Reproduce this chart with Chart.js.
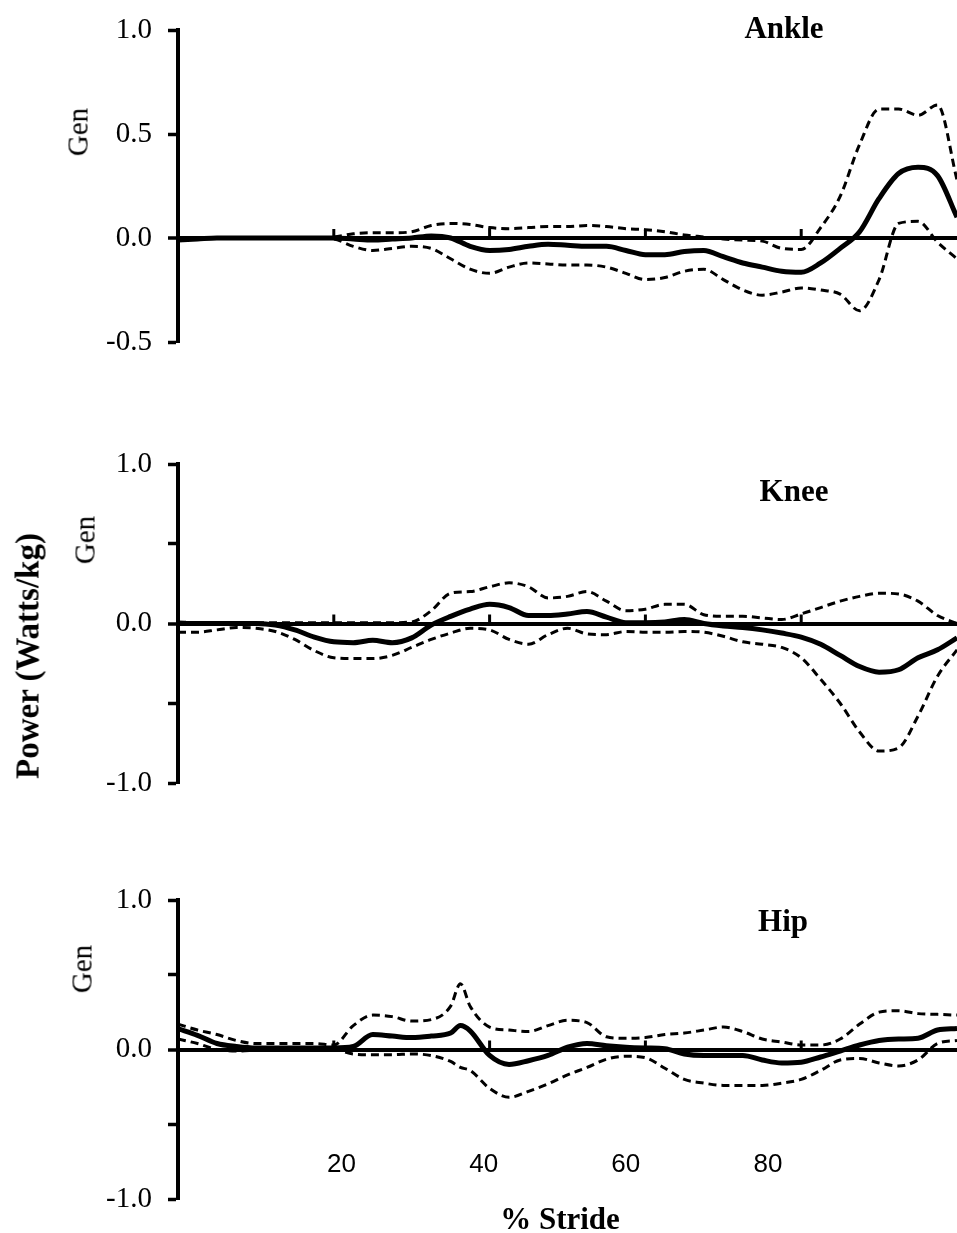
<!DOCTYPE html>
<html>
<head>
<meta charset="utf-8">
<script src="https://cdn.jsdelivr.net/npm/chart.js@4.4.1/dist/chart.umd.min.js"></script>
<style>
  body { margin: 0; background: #fff; width: 957px; height: 1233px; position: relative; overflow: hidden; font-family: 'Liberation Serif', serif; color: #000; }
  canvas { position: absolute; left: 0; }
  .lbl { position: absolute; white-space: nowrap; transform: translate(-50%, -50%); line-height: 1; }
  .rot { transform: translate(-50%, -50%) rotate(-90deg); }
  .title { font-weight: bold; font-size: 31px; }
  .gen { font-size: 29px; }
</style>
</head>
<body>
<canvas id="ankleChart" width="957" height="392" style="top:-10px"></canvas>
<canvas id="kneeChart" width="957" height="399" style="top:424px"></canvas>
<canvas id="hipChart" width="957" height="379" style="top:860px"></canvas>

<div class="lbl title" style="left:784px;top:27px">Ankle</div>
<div class="lbl title" style="left:794px;top:490px">Knee</div>
<div class="lbl title" style="left:783px;top:920px">Hip</div>
<div class="lbl rot gen" style="left:78px;top:132px">Gen</div>
<div class="lbl rot gen" style="left:85px;top:540px">Gen</div>
<div class="lbl rot gen" style="left:82px;top:969px">Gen</div>
<div class="lbl rot" style="left:28px;top:656px;font-weight:bold;font-size:33px">Power (Watts/kg)</div>
<div class="lbl" style="left:560px;top:1218px;font-weight:bold;font-size:31px">% Stride</div>

<script>
// % stride sample points (ankle + knee)
const strideX = [0,2.5,5,7.5,10,12.5,15,17.5,20,22.5,25,27.5,30,32.5,35,37.5,40,42.5,45,47.5,50,52.5,55,57.5,60,62.5,65,67.5,70,72.5,75,77.5,80,82.5,85,87.5,90,92.5,95,97.5,100];
// hip has one extra point at the sharp peak
const hipX = [0,2.5,5,7.5,10,12.5,15,17.5,20,22.5,25,27.5,30,32.5,35,36.25,37.5,40,42.5,45,47.5,50,52.5,55,57.5,60,62.5,65,67.5,70,72.5,75,77.5,80,82.5,85,87.5,90,92.5,95,97.5,100];

// Ankle power (W/kg): mean and +/- 1 SD
const ankleMean  = [-0.01,-0.005,0,0,0,0,0,0,0,-0.005,-0.01,-0.005,0,0.01,0,-0.04,-0.06,-0.055,-0.04,-0.03,-0.035,-0.04,-0.04,-0.06,-0.08,-0.08,-0.065,-0.06,-0.09,-0.12,-0.14,-0.16,-0.165,-0.12,-0.05,0.03,0.19,0.31,0.34,0.3,0.1];
const ankleUpper = [0,0,0,0,0,0,0,0,0.005,0.02,0.025,0.025,0.03,0.06,0.07,0.065,0.05,0.045,0.05,0.055,0.055,0.06,0.055,0.045,0.04,0.03,0.015,0.005,-0.005,-0.01,-0.015,-0.05,-0.055,0.05,0.2,0.45,0.62,0.62,0.59,0.64,0.28];
const ankleLower = [0,0,0,0,0,0,0,0,-0.005,-0.04,-0.06,-0.05,-0.04,-0.05,-0.1,-0.15,-0.17,-0.14,-0.12,-0.125,-0.13,-0.13,-0.14,-0.17,-0.2,-0.19,-0.16,-0.15,-0.2,-0.25,-0.275,-0.26,-0.24,-0.25,-0.27,-0.35,-0.2,0.07,0.08,-0.02,-0.1];

// Knee power
const kneeMean  = [0,0,0,0,0,-0.01,-0.04,-0.085,-0.115,-0.12,-0.105,-0.12,-0.09,-0.01,0.045,0.09,0.12,0.1,0.05,0.05,0.06,0.075,0.04,0.005,0.005,0.01,0.025,0,-0.015,-0.025,-0.04,-0.06,-0.085,-0.13,-0.2,-0.27,-0.305,-0.29,-0.215,-0.165,-0.09];
const kneeUpper = [0.01,0.005,0.005,0.005,0.005,0.005,0.005,0.005,0.005,0.005,0.005,0.005,0.01,0.08,0.19,0.2,0.23,0.255,0.23,0.16,0.17,0.2,0.14,0.08,0.09,0.12,0.12,0.055,0.045,0.045,0.035,0.025,0.06,0.1,0.14,0.17,0.19,0.185,0.14,0.05,0];
const kneeLower = [-0.055,-0.055,-0.04,-0.025,-0.03,-0.05,-0.1,-0.17,-0.215,-0.22,-0.22,-0.2,-0.15,-0.1,-0.06,-0.03,-0.04,-0.1,-0.13,-0.07,-0.03,-0.065,-0.07,-0.05,-0.055,-0.055,-0.05,-0.055,-0.08,-0.115,-0.13,-0.15,-0.215,-0.35,-0.5,-0.68,-0.8,-0.78,-0.58,-0.33,-0.165];

// Hip power
const hipMean  = [0.14,0.095,0.04,0.02,0.01,0.01,0.01,0.01,0.01,0.02,0.1,0.09,0.08,0.09,0.11,0.16,0.125,-0.04,-0.1,-0.075,-0.04,0.015,0.04,0.025,0.015,0.01,0.005,-0.03,-0.04,-0.04,-0.04,-0.07,-0.09,-0.085,-0.05,-0.01,0.03,0.06,0.07,0.075,0.13,0.14];
const hipUpper = [0.17,0.13,0.1,0.06,0.04,0.04,0.04,0.04,0.03,0.16,0.23,0.22,0.19,0.2,0.29,0.44,0.29,0.15,0.13,0.12,0.16,0.195,0.18,0.085,0.075,0.08,0.1,0.11,0.13,0.15,0.12,0.07,0.05,0.03,0.03,0.07,0.17,0.25,0.26,0.24,0.235,0.23];
const hipLower = [0.07,0.04,0,-0.01,-0.005,0,0,0,0,-0.03,-0.035,-0.035,-0.03,-0.04,-0.08,-0.12,-0.14,-0.26,-0.32,-0.28,-0.23,-0.17,-0.12,-0.065,-0.045,-0.055,-0.125,-0.2,-0.225,-0.24,-0.24,-0.24,-0.225,-0.2,-0.14,-0.07,-0.06,-0.09,-0.11,-0.07,0.04,0.06];

const strideTicks = [20, 40, 60, 80];
const strideLabels = [20, 40, 60, 80];

// small upward tick marks on the zero line
const zeroTicks = {
  id: 'zeroTicks',
  beforeDatasetsDraw(chart) {
    const { ctx, scales: { x, y } } = chart;
    const y0 = y.getPixelForValue(0);
    ctx.save();
    ctx.strokeStyle = '#000';
    ctx.lineWidth = 3;
    strideTicks.forEach(v => {
      const px = x.getPixelForValue(v);
      ctx.beginPath();
      ctx.moveTo(px, y0);
      ctx.lineTo(px, y0 - 9);
      ctx.stroke();
    });
    ctx.restore();
  }
};

function series(xs, ys, solid) {
  return {
    data: xs.map((x, i) => ({ x, y: ys[i] })),
    xAxisID: 'x',
    yAxisID: 'y',
    borderColor: '#000',
    borderWidth: solid ? 5 : 3,
    borderDash: solid ? [] : [8, 5],
    pointRadius: 0,
    cubicInterpolationMode: 'monotone',
    order: solid ? 0 : 1
  };
}

// every panel gets 40px padding; the canvas is placed so the plot lands where the figure has it
const panelPad = { top: 40, bottom: 40, left: 0, right: 0 };

function drawPanel(id, xs, mean, upper, lower, yMin, labelAll, withStrideAxis) {
  const scales = {
    x: { type: 'linear', min: 0, max: 100, display: false },
    y: {
      min: yMin,
      max: 1,
      border: { display: true, width: 4, color: '#000' },
      grid: {
        color: c => c.tick && c.tick.value === 0 ? '#000' : 'rgba(0,0,0,0)',
        lineWidth: c => c.tick && c.tick.value === 0 ? 4 : 1,
        tickColor: '#000',
        tickWidth: 3.5,
        tickLength: 10
      },
      ticks: {
        stepSize: 0.5,
        padding: 16,
        color: '#000',
        font: { family: 'Liberation Serif', size: 29 },
        callback: v => (labelAll || Math.abs(v % 1) < 1e-9) ? v.toFixed(1) : ''
      },
      afterFit: s => { s.width = 178; }
    }
  };
  if (withStrideAxis) {
    scales.xl = {
      type: 'linear',
      axis: 'x',
      position: { y: -0.665 },
      min: -3.0,
      max: 106.6,
      afterBuildTicks: s => { s.ticks = strideLabels.map(v => ({ value: v })); },
      grid: { display: false, drawTicks: false },
      border: { display: false },
      ticks: {
        autoSkip: false,
        maxRotation: 0,
        padding: 0,
        color: '#000',
        font: { family: 'Liberation Sans', size: 26 },
        callback: v => String(v)
      },
      afterFit: s => { s.height = 0; }
    };
  }
  return new Chart(document.getElementById(id), {
    type: 'line',
    data: {
      datasets: [series(xs, mean, true), series(xs, upper, false), series(xs, lower, false)]
    },
    options: {
      responsive: false,
      animation: false,
      events: [],
      layout: { padding: panelPad },
      plugins: { legend: { display: false }, tooltip: { enabled: false } },
      scales
    },
    plugins: [zeroTicks]
  });
}

drawPanel('ankleChart', strideX, ankleMean, ankleUpper, ankleLower, -0.5, true, false);
drawPanel('kneeChart', strideX, kneeMean, kneeUpper, kneeLower, -1, false, false);
drawPanel('hipChart', hipX, hipMean, hipUpper, hipLower, -1, false, true);
</script>
</body>
</html>
